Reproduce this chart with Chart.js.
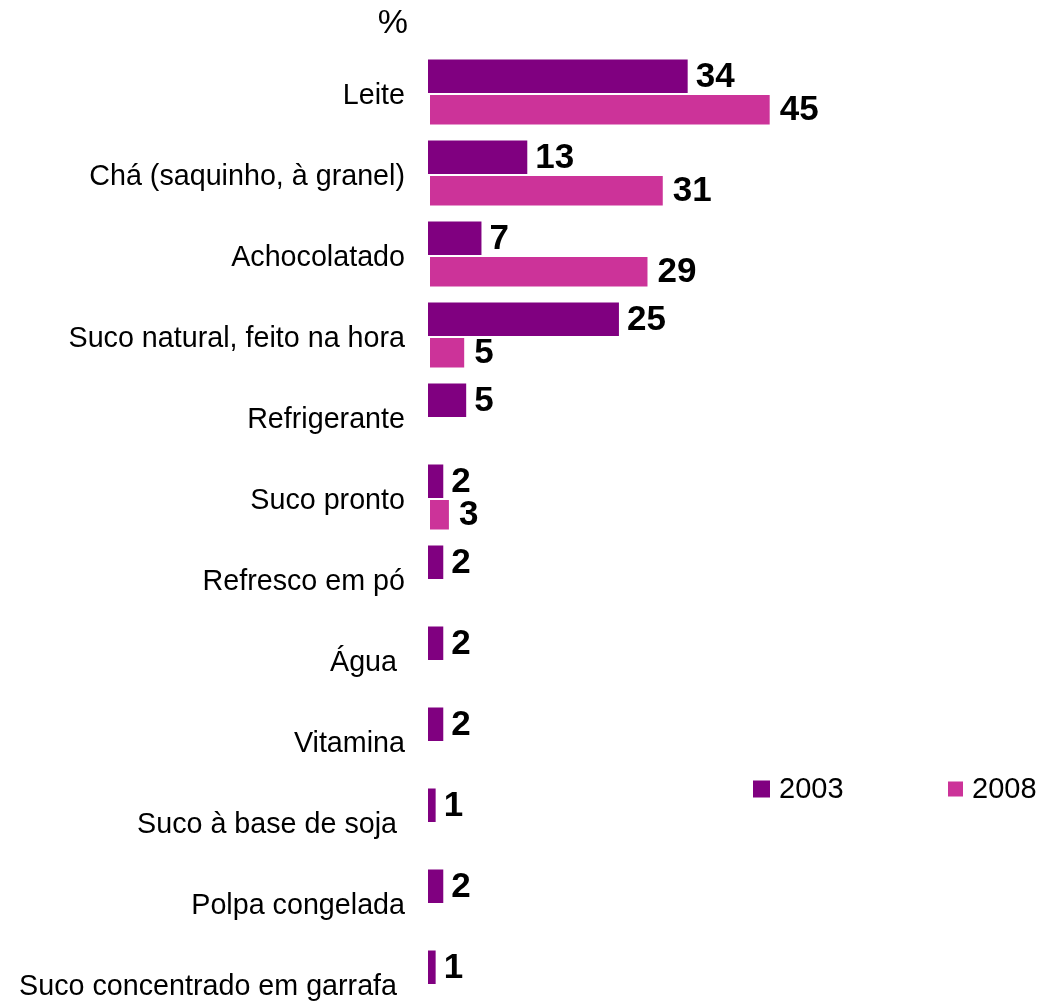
<!DOCTYPE html>
<html>
<head>
<meta charset="utf-8">
<title>Bebidas</title>
<script src="https://cdn.jsdelivr.net/npm/chart.js@4/dist/chart.umd.min.js"></script>
<style>
  html, body { margin: 0; padding: 0; background: #fff; overflow: hidden; }
  canvas { display: block; }
</style>
</head>
<body>
<canvas id="drinks" width="1043" height="1026"></canvas>
<script>
const FONT = '"Liberation Sans", Arial, sans-serif';

const categories = [
    'Leite',
    'Chá (saquinho, à granel)',
    'Achocolatado',
    'Suco natural, feito na hora',
    'Refrigerante',
    'Suco pronto',
    'Refresco em pó',
    'Água ',
    'Vitamina',
    'Suco à base de soja ',
    'Polpa congelada',
    'Suco concentrado em garrafa '
];
const years = ['2003', '2008'];
const values2003 = [34, 13, 7, 25, 5, 2, 2, 2, 2, 1, 2, 1];
const values2008 = [45, 31, 29, 5, null, 3, null, null, null, null, null, null];
const colors = ['#800080', '#cc3399'];

// numbers printed right after each bar
const valueLabels = {
    id: 'valueLabels',
    afterDatasetsDraw(chart) {
        const ctx = chart.ctx;
        ctx.save();
        ctx.font = 'bold 35px ' + FONT;
        ctx.fillStyle = '#000';
        ctx.textAlign = 'left';
        ctx.textBaseline = 'middle';
        chart.data.datasets.forEach((ds, i) => {
            chart.getDatasetMeta(i).data.forEach((bar, j) => {
                const v = ds.data[j];
                if (v === null || v === undefined) return;
                ctx.fillText(String(v), bar.x + 8, bar.y + 1);
            });
        });
        ctx.restore();
    }
};

// "%" unit above the category labels and the year legend on the right
const extras = {
    id: 'extras',
    afterDraw(chart) {
        const ctx = chart.ctx;
        ctx.save();
        ctx.fillStyle = '#000';
        ctx.font = '34px ' + FONT;
        ctx.textAlign = 'right';
        ctx.textBaseline = 'middle';
        ctx.fillText('%', 408, 24);

        const items = [
            { x: 753, size: 17 },
            { x: 948, size: 15 }
        ];
        ctx.font = '29px ' + FONT;
        ctx.textAlign = 'left';
        const cy = 789;
        chart.data.datasets.forEach((ds, i) => {
            const it = items[i];
            ctx.fillStyle = ds.backgroundColor;
            ctx.fillRect(it.x, cy - it.size / 2, it.size, it.size);
            ctx.fillStyle = '#000';
            ctx.fillText(ds.label, it.x + it.size + 9, cy + 1);
        });
        ctx.restore();
    }
};

new Chart(document.getElementById('drinks'), {
    type: 'bar',
    data: {
        labels: categories,
        datasets: [
            {
                label: years[0],
                data: values2003,
                backgroundColor: colors[0],
                borderWidth: 0
            },
            {
                label: years[1],
                data: values2008,
                backgroundColor: colors[1],
                borderColor: '#ffffff',
                borderWidth: 2,
                borderSkipped: false
            }
        ]
    },
    options: {
        indexAxis: 'y',
        responsive: false,
        animation: false,
        layout: { padding: { top: 52.5, bottom: 1.5, left: 0, right: 4 } },
        datasets: {
            bar: { categoryPercentage: 0.827, barPercentage: 1 }
        },
        scales: {
            x: { display: false, min: 0, max: 80 },
            y: {
                grid: { display: false, drawTicks: false },
                border: { display: false },
                ticks: {
                    color: '#000',
                    padding: 23,
                    labelOffset: 3,
                    font: { family: FONT, size: 28.7 }
                },
                afterFit(scale) {
                    scale.width = 428;
                    scale.paddingTop = 0;
                    scale.paddingBottom = 0;
                }
            }
        },
        plugins: {
            legend: { display: false },
            tooltip: { enabled: false }
        }
    },
    plugins: [valueLabels, extras]
});
</script>
</body>
</html>
